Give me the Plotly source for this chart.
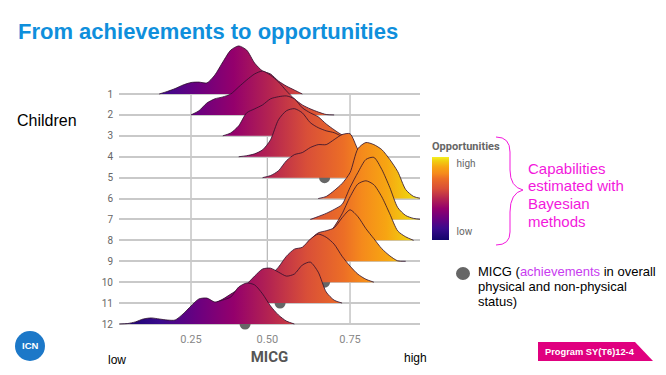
import plotly.graph_objects as go

W, H = 666, 375
ML, MR, MT, MB = 119, 246, 40, 45

grid_step = 0.025
row_labels = list(range(1, 13))
row_start = [0.15, 0.25, 0.35, 0.40, 0.475, 0.65, 0.625, 0.65, 0.575, 0.475, 0.325, 0.025]
h01 = [0, 0.12, 0.26, 0.43, 0.55, 0.57, 0.53, 0.91, 1.53, 2.1, 2.3, 2.1, 1.48, 1.1, 0.96, 0.62, 0.38, 0.19, 0]
h02 = [0, 0.2, 0.57, 0.77, 0.86, 1.0, 1.34, 1.67, 1.96, 2.1, 1.9, 1.58, 1.15, 0.77, 0.48, 0.29, 0.14, 0.02, 0]
h03 = [0, 0.14, 0.48, 1.1, 1.29, 1.48, 1.77, 1.87, 1.91, 1.77, 1.34, 1.1, 0.91, 0.57, 0.29, 0.05, 0]
h04 = [0, 0.05, 0.14, 0.33, 0.81, 1.77, 2.2, 2.3, 2.1, 1.63, 1.39, 1.24, 1.15, 0.96, 0.67, 0.33, 0.1, 0]
h05 = [0, 0.1, 0.33, 0.81, 1.1, 1.2, 1.44, 1.58, 1.58, 1.82, 2.06, 2.1, 1.34, 0.86, 0.48, 0.19, 0]
h06 = [0, 0.1, 0.38, 0.72, 1.24, 2.39, 2.68, 2.58, 2.34, 1.87, 1.29, 0.43, 0.1, 0]
h07 = [0, 0.14, 0.29, 0.48, 0.72, 1.53, 2.25, 2.87, 2.97, 2.39, 1.53, 0.57, 0.19, 0.05, 0]
h08 = [0, 0.17, 0.65, 1.27, 2.08, 2.7, 2.85, 2.66, 2.08, 1.27, 0.45, 0.17, 0]
h09 = [0, 0.45, 1.03, 1.36, 1.46, 1.6, 2.08, 2.46, 2.13, 1.56, 1.08, 0.6, 0.26, 0.02, 0]
h10 = [0, 0.33, 0.72, 1.24, 1.58, 1.67, 2.06, 2.3, 2.15, 1.82, 1.24, 0.77, 0.38, 0.14, 0]
h11 = [0, 0.19, 0.43, 0.67, 0.91, 1.29, 1.63, 1.67, 1.48, 1.29, 1.39, 1.82, 1.96, 1.48, 0.53, 0.14, 0]
h12 = [0, 0.02, 0.1, 0.24, 0.29, 0.24, 0.19, 0.19, 0.48, 0.86, 1.2, 1.24, 1.05, 1.15, 1.29, 1.77, 1.96, 1.87, 1.44, 0.86, 0.43, 0.14, 0]
ridges = [h01, h02, h03, h04, h05, h06, h07, h08, h09, h10, h11, h12]

micg_rows = [5, 10, 11, 12]
micg_values = [0.67, 0.67, 0.53, 0.42]

x_tick_values = [0.25, 0.49, 0.75]
x_tick_labels = ["0.25", "0.50", "0.75"]

capability_lines = ["Capabilities", "estimated with", "Bayesian", "methods"]
micg_lines = [
    'MICG (<span style="color:#c83cf0">achievements</span> in overall',
    "physical and non-physical",
    "status)",
]

opportunity_scale = [
    [0.00, "#12046b"], [0.14, "#3a0a8c"], [0.26, "#6a0080"], [0.38, "#94006c"],
    [0.50, "#b52550"], [0.62, "#d94f38"], [0.74, "#ec6e26"], [0.80, "#f58a1c"],
    [0.88, "#f7a512"], [0.955, "#f0d010"], [1.00, "#f5f023"],
]

def px(x):
    return (x - ML) / (W - ML - MR)

def py(y):
    return (H - MB - y) / (H - MT - MB)

fig = go.Figure()

# MICG achievement points, under the ridges
fig.add_trace(go.Scatter(
    x=micg_values, y=micg_rows, mode="markers",
    marker=dict(size=11, color="#666666"), showlegend=False, hoverinfo="skip",
))

for row, heights, start in zip(row_labels, ridges, row_start):
    xs = [start + i * grid_step for i in range(len(heights))]
    ys = [row - h for h in heights]
    fig.add_trace(go.Scatter(
        x=xs, y=ys, mode="lines", line=dict(width=0, shape="spline", smoothing=0.7),
        fill="toself",
        fillgradient=dict(type="horizontal", colorscale=opportunity_scale, start=0.02, stop=0.98),
        showlegend=False, hoverinfo="skip",
    ))
    fig.add_trace(go.Scatter(
        x=xs, y=ys, mode="lines",
        line=dict(width=1, color="rgba(45,15,45,0.8)", shape="spline", smoothing=0.7),
        showlegend=False, hoverinfo="skip",
    ))

# Colour legend
fig.add_trace(go.Scatter(
    x=[None, None], y=[None, None], mode="markers", showlegend=False, hoverinfo="skip",
    marker=dict(
        color=[0, 1], cmin=0, cmax=1, colorscale=opportunity_scale, showscale=True,
        colorbar=dict(
            x=px(432), xanchor="left", y=py(139), yanchor="top", lenmode="pixels", len=101,
            thickness=17, xpad=0, ypad=0, outlinewidth=0, ticks="outside", ticklen=6,
            tickcolor="rgba(0,0,0,0)",
            tickvals=[0.92, 0.1], ticktext=["high", "low"],
            tickfont=dict(family="Roboto", size=10, color="#666666"),
            title=dict(text="<b>Opportunities</b>", side="top",
                       font=dict(family="Roboto", size=11, color="#666666")),
        ),
    ),
))

shapes = []
for v in x_tick_values:
    shapes.append(dict(type="line", xref="x", yref="y", x0=v, x1=v, y0=1, y1=12,
                       line=dict(color="#bbbbbb", width=1.3), layer="below"))

magenta = "#f318dc"
brace = (
    f"M {px(496)},{py(137)} Q {px(510)},{py(137)} {px(510)},{py(152)} "
    f"L {px(510)},{py(170)} Q {px(510)},{py(187)} {px(523)},{py(190)} "
    f"Q {px(510)},{py(193)} {px(510)},{py(212)} "
    f"L {px(510)},{py(232)} Q {px(510)},{py(245)} {px(496)},{py(245)}"
)
shapes.append(dict(type="path", xref="paper", yref="paper", path=brace,
                   line=dict(color=magenta, width=1)))
# MICG legend dot
shapes.append(dict(type="circle", xref="paper", yref="paper",
                   x0=px(456), x1=px(470), y0=py(267), y1=py(280),
                   fillcolor="#666666", line=dict(width=0)))
# Programme badge
badge = (f"M {px(538)},{py(342)} L {px(635)},{py(342)} L {px(653)},{py(361)} "
         f"L {px(538)},{py(361)} Z")
shapes.append(dict(type="path", xref="paper", yref="paper", path=badge,
                   fillcolor="#e0007f", line=dict(width=0)))
# Logo
shapes.append(dict(type="circle", xref="paper", yref="paper",
                   x0=px(15), x1=px(45), y0=py(331), y1=py(361),
                   fillcolor="#1c78c8", line=dict(width=0)))

def note(x, y, text, size, color="#000000", family="Liberation Sans", anchor="left"):
    return dict(x=px(x), y=py(y), xref="paper", yref="paper", text=text, showarrow=False,
                xanchor=anchor, yanchor="middle", align="left",
                xshift=-2 if anchor == "left" else 0,
                font=dict(family=family, size=size, color=color))

annotations = [
    note(18, 31, "<b>From achievements to opportunities</b>", 22, "#0f8fdc"),
    note(17, 120, "Children", 16),
    note(108, 360, "low", 12),
    note(404, 358, "high", 12),
    note(545, 351.5, "<b>Program SY(T6)12-4</b>", 9.3, "#ffffff"),
    note(30, 345, "<b>ICN</b>", 9.5, "#ffffff", anchor="center"),
]
for line, y in zip(capability_lines, [168, 185.7, 203.4, 221]):
    annotations.append(note(528, y, line, 15, magenta))
for line, y in zip(micg_lines, [271, 286, 301]):
    annotations.append(note(478, y, line, 13))

fig.update_layout(
    width=W, height=H, autosize=False, paper_bgcolor="#ffffff", plot_bgcolor="#ffffff",
    margin=dict(l=ML, r=MR, t=MT, b=MB, pad=0, autoexpand=False),
    font=dict(family="Roboto", color="#666666"),
    shapes=shapes, annotations=annotations, showlegend=False,
    xaxis=dict(
        range=[0.0236, 0.970], tickvals=x_tick_values, ticktext=x_tick_labels,
        showgrid=False, zeroline=False, showline=False, ticks="", ticklabelstandoff=1,
        tickfont=dict(family="Roboto", size=11, color="#888888"),
        title=dict(text="<b>MICG</b>", standoff=6,
                   font=dict(family="Roboto", size=15, color="#555555")),
    ),
    yaxis=dict(
        range=[12.287, -1.584], tickvals=row_labels, ticktext=[str(r) for r in row_labels],
        showgrid=True, gridcolor="#c9c9c9", gridwidth=1.7, zeroline=False, showline=False,
        ticks="", ticklabelstandoff=5,
        tickfont=dict(family="Roboto", size=10, color="#666666"),
    ),
)

fig.write_html(
    "out.html",
    config={"displayModeBar": False},
    post_script="document.body.style.margin='0';document.documentElement.style.overflow='hidden';",
)
